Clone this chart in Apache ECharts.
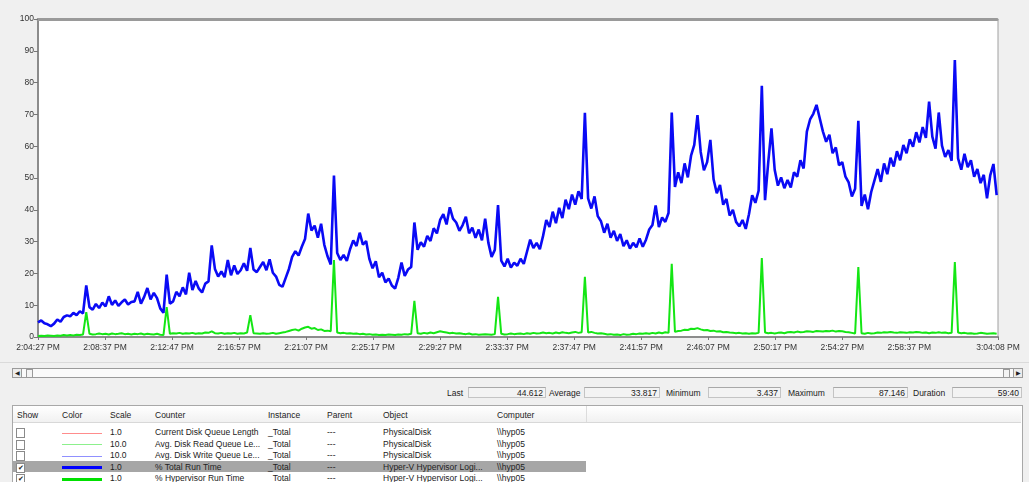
<!DOCTYPE html>
<html>
<head>
<meta charset="utf-8">
<script src="https://cdn.jsdelivr.net/npm/echarts@6/dist/echarts.min.js"></script>
<style>
  html, body { margin: 0; padding: 0; background: #f0f0f0; }
  body { width: 1029px; height: 482px; position: relative; overflow: hidden;
         font-family: "Liberation Sans", Arial, sans-serif; font-size: 8.5px; color: #222; }
  #chart { position: absolute; left: 0; top: 0; width: 1029px; height: 362px; }
  .abs { position: absolute; white-space: nowrap; }
  .scroll { left: 12px; top: 368px; width: 1009px; height: 8px; border: 1px solid #9a9a9a; background: #fafafa; }
  .sbtn { top: 368px; width: 8px; height: 8px; border: 1px solid #9a9a9a; background: #ececec; font-size: 6px; line-height: 8px; text-align: center; }
  .box { top: 387px; height: 11px; border: 1px solid #c4c4c4; border-top-color: #a8a8a8; background: #f3f3f3;
         text-align: right; line-height: 11px; padding-right: 2px; box-sizing: border-box; }
  .lbl { top: 387px; line-height: 12px; }
  .table { left: 12px; top: 405px; width: 1009px; height: 80px; border: 1px solid #a8a8a8; background: #fff; }
  .head { left: 13px; top: 406px; width: 1008px; height: 16px; background: linear-gradient(#ffffff, #f1f1f1); border-bottom: 1px solid #d8d8d8; }
  .hsep { left: 586px; top: 406px; width: 1px; height: 16px; background: #dcdcdc; }
  .sel { left: 13px; top: 461px; width: 573px; height: 11px; background: #a6a6a6; }
  .chk { width: 7px; height: 8px; border: 1px solid #8a8a8a; background: #fff; font-size: 7px; line-height: 8px; text-align: center; }
  .swatch { left: 62px; width: 40px; }
</style>
</head>
<body>
<div id="chart"></div>
<div id="bottom"></div>
<script>
// seconds from 2:04:27 PM, one sample every 12 s
const sampleStep = 12;
const xMaxSeconds = 3581;
const xTickSeconds = [0, 250, 500, 750, 1000, 1250, 1500, 1750, 2000, 2250, 2500, 2750, 3000, 3250, 3581];
const xTickLabels = ['2:04:27 PM', '2:08:37 PM', '2:12:47 PM', '2:16:57 PM', '2:21:07 PM', '2:25:17 PM', '2:29:27 PM',
  '2:33:37 PM', '2:37:47 PM', '2:41:57 PM', '2:46:07 PM', '2:50:17 PM', '2:54:27 PM', '2:58:37 PM', '3:04:08 PM'];

// % Total Run Time (blue)
const totalRunTime = [
  4.6, 5.2, 4.3, 4.0, 3.4, 4.2, 5.5, 4.8, 6.3, 6.8,
  6.5, 7.6, 6.9, 8.1, 7.4, 16.2, 9.4, 8.6, 10.4, 9.1,
  10.8, 9.6, 12.8, 10.1, 11.5, 9.8, 10.9, 11.8, 10.2, 11.0,
  11.2, 14.2, 10.5, 12.6, 15.4, 11.8, 13.9, 12.2, 9.0, 7.6,
  19.6, 10.5, 11.2, 14.2, 12.8, 15.6, 13.4, 20.2, 14.8, 17.6,
  15.2, 14.0, 16.8, 17.5, 28.8, 21.4, 19.0, 20.6, 18.8, 24.2,
  19.4, 22.5, 19.8, 21.0, 23.2, 20.8, 28.0, 21.2, 20.4, 22.0,
  23.6, 21.0, 24.4, 20.2, 19.0, 16.4, 15.8, 18.6, 21.4, 25.2,
  27.0, 25.6, 28.4, 30.8, 38.8, 33.5, 35.0, 31.2, 35.6, 29.0,
  25.4, 22.8, 50.8, 26.4, 24.2, 25.8, 23.9, 27.6, 30.4, 28.6,
  32.8, 29.0, 30.2, 24.6, 21.6, 23.8, 18.8, 20.2, 17.2, 18.4,
  16.2, 15.2, 18.6, 23.4, 19.2, 21.2, 22.0, 36.0, 27.4, 29.8,
  28.4, 31.8, 30.2, 34.2, 32.6, 36.8, 38.6, 35.4, 40.8, 37.2,
  36.0, 33.4, 35.2, 37.8, 32.6, 34.4, 31.2, 33.8, 30.4, 37.2,
  29.6, 25.2, 27.4, 41.5, 24.0, 22.2, 24.6, 21.8, 23.4, 22.4,
  24.6, 23.0, 26.8, 30.6, 28.0, 29.6, 27.6, 31.8, 36.8, 34.6,
  39.4, 35.8, 40.6, 37.4, 43.2, 40.2, 44.8, 41.6, 45.8, 43.4,
  70.5, 43.6, 40.4, 44.2, 38.0, 36.4, 32.8, 35.6, 31.2, 33.4,
  30.2, 32.4, 28.6, 30.4, 27.8, 29.6, 28.2, 31.0, 28.4, 30.6,
  33.8, 35.2, 41.4, 34.6, 37.6, 36.2, 39.0, 70.6, 47.2, 51.8,
  48.4, 54.6, 50.2, 57.0, 60.4, 69.8, 58.2, 52.4, 55.0, 62.0,
  49.6, 45.2, 47.8, 41.6, 43.4, 38.2, 40.0, 36.2, 34.8, 36.8,
  34.0, 38.6, 44.6, 42.2, 46.0, 79.0, 43.0, 55.0, 65.6, 52.6,
  47.6, 50.2, 46.8, 49.4, 47.0, 51.8, 50.4, 55.6, 53.0, 64.6,
  68.4, 70.2, 73.0, 68.8, 64.6, 61.4, 63.6, 57.8, 59.6, 54.0,
  55.0, 50.4, 48.6, 44.2, 46.6, 68.0, 41.2, 44.8, 40.2, 45.6,
  49.2, 52.8, 48.8, 54.6, 51.2, 56.4, 53.6, 58.4, 55.6, 60.4,
  57.8, 62.2, 59.8, 64.4, 61.2, 66.0, 62.6, 74.0, 63.0, 59.2,
  70.6, 60.2, 56.6, 58.8, 55.4, 87.1, 56.2, 52.6, 57.6, 53.4,
  55.6, 50.4, 52.8, 48.4, 51.0, 43.6, 50.8, 54.4, 44.6
];

// % Hypervisor Run Time (green)
const hypervisorRunTime = [
  0.3, 0.4, 0.3, 0.5, 0.4, 0.3, 0.5, 0.4, 0.6, 0.5,
  0.6, 0.5, 0.7, 0.6, 0.8, 7.8, 1.0, 0.8, 0.9, 1.1,
  0.9, 1.0, 0.8, 1.1, 0.9, 1.0, 1.2, 0.9, 1.0, 0.8,
  1.0, 0.9, 1.1, 0.8, 1.0, 0.9, 0.8, 1.0, 0.7, 0.6,
  9.4, 1.0, 1.2, 1.1, 1.3, 1.0, 1.2, 1.1, 1.3, 1.0,
  1.2, 1.1, 1.4, 1.3, 1.8, 1.2, 1.1, 1.3, 1.0, 1.2,
  1.1, 1.3, 1.0, 1.2, 1.1, 1.4, 6.9, 1.2, 1.1, 1.0,
  1.2, 1.0, 1.1, 1.3, 1.0, 1.2, 1.4, 1.6, 1.9, 2.2,
  2.4, 2.0, 2.6, 3.0, 3.2, 2.6, 2.8, 2.2, 2.4, 1.9,
  2.0, 1.8, 24.2, 1.4, 1.2, 1.3, 1.1, 1.2, 1.0, 1.1,
  0.9, 1.0, 0.8, 0.9, 0.7, 0.8, 0.6, 0.7, 0.6, 0.8,
  0.7, 0.6, 0.8, 0.7, 0.9, 0.8, 1.0, 11.4, 1.2, 1.0,
  1.3, 1.1, 1.4, 1.2, 1.5, 1.8, 1.6, 1.4, 1.2, 1.3,
  1.1, 1.2, 1.0, 0.9, 1.1, 0.8, 0.9, 0.7, 0.8, 0.9,
  0.8, 0.7, 0.9, 12.6, 1.0, 0.8, 0.9, 1.1, 0.9, 1.0,
  1.1, 0.9, 1.2, 1.0, 1.3, 1.1, 1.2, 1.4, 1.2, 1.3,
  1.1, 1.4, 1.2, 1.5, 1.3, 1.2, 1.4, 1.6, 1.3, 1.5,
  18.9, 1.4, 1.6, 1.3, 1.1, 1.2, 1.0, 0.8, 0.9, 0.7,
  0.8, 0.6, 0.9, 0.7, 0.8, 1.0, 0.9, 1.1, 1.0, 1.2,
  1.0, 1.3, 1.1, 1.4, 1.2, 1.5, 1.3, 23.0, 1.6, 1.9,
  2.0, 2.3, 2.2, 2.6, 2.5, 2.8, 2.4, 2.1, 2.2, 1.9,
  2.0, 1.7, 1.8, 1.5, 1.6, 1.4, 1.3, 1.2, 1.3, 1.1,
  1.2, 1.0, 1.2, 1.1, 1.3, 24.8, 1.4, 1.2, 1.3, 1.1,
  1.3, 1.4, 1.2, 1.5, 1.6, 1.4, 1.7, 1.5, 1.6, 1.8,
  1.7, 1.6, 1.9, 1.8, 1.7, 1.9, 1.8, 2.0, 1.7, 1.9,
  1.8, 1.6, 1.5, 1.3, 1.1, 22.0, 1.2, 1.0, 1.3, 1.1,
  1.2, 1.4, 1.3, 1.5, 1.4, 1.6, 1.4, 1.3, 1.5, 1.4,
  1.3, 1.5, 1.4, 1.6, 1.5, 1.3, 1.4, 1.2, 1.4, 1.3,
  1.5, 1.3, 1.4, 1.2, 1.3, 23.6, 1.4, 1.2, 1.3, 1.1,
  1.2, 1.0, 1.1, 1.3, 1.2, 1.0, 1.1, 1.2, 1.0
];

// bottom panel text
const statNames = ['Last', 'Average', 'Minimum', 'Maximum', 'Duration'];
const statValues = ['44.612', '33.817', '3.437', '87.146', '59:40'];
const tableHeaders = ['Show', 'Color', 'Scale', 'Counter', 'Instance', 'Parent', 'Object', 'Computer'];
const counterNames = ['Current Disk Queue Length', 'Avg. Disk Read Queue Le...', 'Avg. Disk Write Queue Le...', '% Total Run Time', '% Hypervisor Run Time'];
const counterScales = ['1.0', '10.0', '10.0', '1.0', '1.0'];
const counterObjects = ['PhysicalDisk', 'PhysicalDisk', 'PhysicalDisk', 'Hyper-V Hypervisor Logi...', 'Hyper-V Hypervisor Logi...'];
const counterShown = [false, false, false, true, true];
const counterColors = ['#ff8c8c', '#8cf08c', '#9090ff', '#0000ff', '#00e000'];

const toPairs = arr => arr.map((v, i) => [i * sampleStep, v]);

const font = '"Liberation Sans", Arial, sans-serif';
const chart = echarts.init(document.getElementById('chart'), null, { renderer: 'canvas' });
chart.setOption({
  animation: false,
  backgroundColor: 'transparent',
  grid: {
    left: 38, top: 19, width: 960, height: 318,
    show: true, backgroundColor: '#ffffff', borderColor: '#a0a0a0', borderWidth: 1,
    outerBoundsMode: 'none'
  },
  xAxis: [{
    type: 'value', min: 0, max: xMaxSeconds,
    axisLine: { show: true, lineStyle: { color: '#8c8c8c', width: 2 } },
    axisTick: { show: true, length: 3, customValues: xTickSeconds, lineStyle: { color: '#777' } },
    axisLabel: {
      customValues: xTickSeconds, margin: 6, fontSize: 8.5, fontFamily: font, color: '#333',
      formatter: v => xTickLabels[xTickSeconds.indexOf(v)] || ''
    },
    splitLine: { show: false }
  }, {
    type: 'value', min: 0, max: xMaxSeconds, position: 'top',
    axisLine: { show: true, lineStyle: { color: '#9a9a9a', width: 3, type: [2, 1] } },
    axisTick: { show: false }, axisLabel: { show: false }, splitLine: { show: false }
  }],
  yAxis: {
    type: 'value', min: 0, max: 100, interval: 10,
    axisLine: { show: true, lineStyle: { color: '#8c8c8c', width: 2 } },
    axisTick: { show: true, length: 4, lineStyle: { color: '#777' } },
    axisLabel: { margin: 4, fontSize: 8.5, fontFamily: font, color: '#333' },
    splitLine: { show: false }
  },
  series: [{
    name: '% Hypervisor Run Time', type: 'line', showSymbol: false,
    data: toPairs(hypervisorRunTime),
    lineStyle: { color: '#14e614', width: 2 }, itemStyle: { color: '#14e614' }
  }, {
    name: '% Total Run Time', type: 'line', showSymbol: false,
    data: toPairs(totalRunTime),
    lineStyle: { color: '#0a0af5', width: 2.6 }, itemStyle: { color: '#0a0af5' }
  }]
});

// lower panel: scroll bar, statistics, counter list
let html = '';
html += '<div class="abs" style="left:0;top:362px;width:1029px;height:1px;background:#dadada"></div>';
html += '<div class="abs scroll"></div>';
html += '<div class="abs sbtn" style="left:12px">&#9664;</div>';
html += '<div class="abs" style="left:26px;top:369px;width:5px;height:7px;border:1px solid #9a9a9a;background:#f4f4f4"></div>';
html += '<div class="abs" style="left:1003px;top:369px;width:5px;height:7px;border:1px solid #9a9a9a;background:#f4f4f4"></div>';
html += '<div class="abs sbtn" style="left:1013px">&#9654;</div>';

const statLabelX = [447, 549, 666, 788, 913];
const statBox = [[468, 546], [584, 660], [708, 781], [833, 908], [952, 1022]];
statNames.forEach((n, i) => {
  html += `<div class="abs lbl" style="left:${statLabelX[i]}px">${n}</div>`;
  html += `<div class="abs box" style="left:${statBox[i][0]}px;width:${statBox[i][1] - statBox[i][0]}px">${statValues[i]}</div>`;
});

html += '<div class="abs table"></div><div class="abs head"></div><div class="abs hsep"></div>';
const colX = [17, 62, 110, 155, 268, 327, 383, 497];
tableHeaders.forEach((h, i) => {
  html += `<div class="abs" style="left:${colX[i]}px;top:409px;line-height:12px">${h}</div>`;
});
html += '<div class="abs sel"></div>';
const rowTop = [427, 438.5, 450, 461.5, 473];
counterNames.forEach((c, r) => {
  const t = rowTop[r];
  html += `<div class="abs chk" style="left:16px;top:${t + 1}px">${counterShown[r] ? '&#10004;' : ''}</div>`;
  const th = counterShown[r] ? 3 : 1;
  html += `<div class="abs swatch" style="top:${t + 6 - th / 2}px;height:${th}px;background:${counterColors[r]}"></div>`;
  const cells = [counterScales[r], c, '_Total', '---', counterObjects[r], '\\\\hyp05'];
  cells.forEach((s, k) => {
    html += `<div class="abs" style="left:${colX[k + 2]}px;top:${t}px;line-height:11px">${s}</div>`;
  });
});
document.getElementById('bottom').innerHTML = html;
</script>
</body>
</html>
